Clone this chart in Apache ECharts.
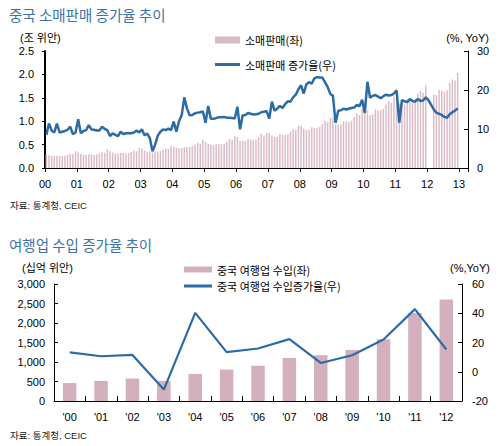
<!DOCTYPE html>
<html>
<head>
<meta charset="utf-8">
<script src="https://cdn.jsdelivr.net/npm/echarts@6/dist/echarts.min.js"></script>
<style>html,body{margin:0;padding:0;background:#fff}#c{width:502px;height:446px}</style>
</head>
<body>
<div id="c"></div>
<script>
// ---------- Chart 1: China retail sales (monthly, 2000-01 .. 2012-12) ----------
const yearLabels = ['00','01','02','03','04','05','06','07','08','09','10','11','12','13'];
const retailLeftTicks = ['0.0','0.5','1.0','1.5','2.0','2.5'];
const retailRightTicks = ['0','10','20','30'];
// 조 위안, one row per year (Jan..Dec)
const retailSales = [
  0.30,0.27,0.26,0.26,0.26,0.26,0.26,0.26,0.28,0.30,0.30,0.36,
  0.33,0.30,0.28,0.28,0.29,0.29,0.28,0.29,0.31,0.33,0.33,0.40,
  0.36,0.33,0.31,0.31,0.32,0.32,0.31,0.32,0.34,0.37,0.36,0.43,
  0.41,0.37,0.35,0.35,0.33,0.35,0.35,0.36,0.39,0.42,0.41,0.47,
  0.46,0.43,0.42,0.42,0.45,0.45,0.45,0.46,0.49,0.54,0.52,0.60,
  0.55,0.52,0.50,0.49,0.52,0.51,0.51,0.52,0.56,0.62,0.60,0.68,
  0.66,0.58,0.58,0.58,0.62,0.61,0.60,0.61,0.66,0.73,0.69,0.75,
  0.75,0.70,0.67,0.67,0.72,0.71,0.71,0.72,0.78,0.83,0.81,0.90,
  0.91,0.84,0.81,0.81,0.87,0.86,0.86,0.88,0.94,1.01,0.98,1.07,
  1.08,0.93,0.93,0.93,1.00,0.99,0.99,1.01,1.09,1.17,1.13,1.26,
  1.27,1.23,1.13,1.15,1.25,1.23,1.23,1.26,1.35,1.43,1.39,1.53,
  1.52,1.38,1.36,1.36,1.47,1.46,1.44,1.47,1.59,1.65,1.61,1.77,
  null,null,1.57,1.56,1.67,1.66,1.63,1.66,1.82,1.89,1.87,2.03
];
// %, YoY
const retailGrowth = [
  8.5,11.4,9.6,9.1,11.4,9.1,9.3,9.5,9.8,10.6,8.7,9.1,
  12.5,8.9,9.5,9.7,11.0,9.9,9.8,9.6,9.6,10.6,10.0,9.7,
  8.2,8.9,8.5,8.2,9.3,8.7,8.9,8.9,8.9,9.1,9.6,9.1,
  9.9,8.4,8.8,7.7,4.3,6.0,8.3,9.3,9.9,9.7,10.1,9.7,
  11.9,9.3,12.0,13.5,18.1,15.3,13.5,13.6,14.0,14.2,14.3,14.5,
  11.6,15.9,12.6,12.6,12.8,13.0,13.0,13.1,12.9,12.9,12.8,12.7,
  15.7,9.9,13.5,13.6,14.1,13.9,13.7,13.8,13.9,14.3,14.4,14.6,
  12.7,17.0,14.7,15.2,15.9,15.4,16.4,17.1,17.0,18.1,18.8,20.2,
  21.2,19.1,21.5,22.0,21.6,23.0,23.3,23.2,23.2,22.0,20.8,19.0,
  18.5,11.6,14.7,14.8,15.2,15.0,15.2,15.4,15.5,16.2,15.8,17.5,
  14.1,22.1,18.0,18.5,18.7,18.3,17.9,18.4,18.8,18.6,18.7,19.1,
  19.9,11.6,17.4,17.1,16.9,17.7,17.2,17.0,17.7,17.2,17.3,18.1,
  17.4,16.2,15.0,14.2,13.9,13.6,13.1,12.9,13.8,14.3,14.7,15.3
];

// ---------- Chart 2: China tourism revenue (annual) ----------
const tourYears = ["'00","'01","'02","'03","'04","'05","'06","'07","'08","'09","'10","'11","'12"];
const tourLeftTicks = ['0','500','1,000','1,500','2,000','2,500','3,000'];
const tourRightTicks = ['-20','0','20','40','60'];
const tourRevenue = [460, 515, 575, 515, 695, 805, 905, 1105, 1175, 1310, 1585, 2255, 2600]; // 십억 위안
const tourGrowth = [13.2, 10.6, 11.5, -12.2, 40.3, 13.4, 15.9, 22.3, 6.0, 11.3, 22.1, 42.8, 15.2]; // %

// month-slot centers on the value x-axis
const salesPts = retailSales.map((v, i) => [i + 0.5, v]).filter(p => p[1] !== null);
const growthPts = retailGrowth.map((v, i) => [i + 0.5, v]);

const FONT = "'Liberation Sans', 'Noto Sans CJK KR', sans-serif";
const KFONT = "'Noto Sans CJK KR', 'Liberation Sans', sans-serif";
const BLUE = '#2d6ba5';
const TITLE_BLUE = '#3b72a9';
const PINK_TOP = '#dbbcc6';
const PINK_BOT = '#d4b0be';

const chart = echarts.init(document.getElementById('c'), null, {renderer: 'svg'});

const txt = (text, x, y, size, align, color) => ({
  type: 'text', silent: true,
  style: {text, x, y, fill: color || '#000', font: size + 'px ' + FONT, align: align || 'left', verticalAlign: 'middle'}
});

const legendBase = {padding: 0, orient: 'horizontal', selectedMode: false,
  textStyle: {fontSize: 11, color: '#000', fontFamily: KFONT}};

chart.setOption({
  animation: false,
  backgroundColor: '#fff',
  textStyle: {fontFamily: FONT},
  title: [
    {text: '중국 소매판매 증가율 추이', left: 9, top: 7, padding: 0,
     textStyle: {fontSize: 14.5, fontWeight: 'normal', color: TITLE_BLUE, fontFamily: KFONT}},
    {text: '여행업 수입 증가율 추이', left: 9, top: 237, padding: 0,
     textStyle: {fontSize: 14.5, fontWeight: 'normal', color: TITLE_BLUE, fontFamily: KFONT}}
  ],
  graphic: [
    txt('(조 위안)', 20, 38, 11),
    txt('(%, YoY)', 489, 38, 11, 'right'),
    txt('자료: 통계청, CEIC', 10, 205, 9.5, 'left', '#222'),
    txt('(십억 위안)', 22, 268, 11),
    txt('(%,YoY)', 490, 268, 11, 'right'),
    txt('자료: 통계청, CEIC', 10, 435, 9.5, 'left', '#222')
  ],
  legend: [
    Object.assign({}, legendBase, {data: ['소매판매(좌)'], left: 215, top: 34.5, itemWidth: 25, itemHeight: 7, icon: 'rect'}),
    Object.assign({}, legendBase, {data: ['소매판매 증가율(우)'], left: 215, top: 59, itemWidth: 25, itemHeight: 3, icon: 'rect'}),
    Object.assign({}, legendBase, {data: ['중국 여행업 수입(좌)'], left: 184, top: 264, itemWidth: 28, itemHeight: 6, icon: 'rect'}),
    Object.assign({}, legendBase, {data: ['중국 여행업 수입증가율(우)'], left: 184, top: 280.5, itemWidth: 28, itemHeight: 3, icon: 'rect'})
  ],
  grid: [
    {left: 45, top: 51, width: 423, height: 117},
    {left: 54, top: 284, width: 408, height: 117}
  ],
  xAxis: [
    {gridIndex: 0, type: 'value', min: 0, max: 159.4, interval: 12,
     axisLine: {show: true, lineStyle: {color: '#000', width: 1}},
     axisTick: {show: true, length: 4, lineStyle: {color: '#000'}},
     axisLabel: {fontSize: 11, color: '#000', margin: 10,
       formatter: v => (v % 12 === 0 ? yearLabels[v / 12] : '')},
     splitLine: {show: false}},
    {gridIndex: 1, type: 'category', data: tourYears, boundaryGap: true,
     axisLine: {show: true, lineStyle: {color: '#000', width: 1}},
     axisTick: {show: true, inside: true, length: 5, alignWithLabel: false, lineStyle: {color: '#000'}},
     axisLabel: {fontSize: 11, color: '#000', margin: 10, interval: 0},
     splitLine: {show: false}}
  ],
  yAxis: [
    {gridIndex: 0, type: 'value', position: 'left', min: 0, max: 2.5, interval: 0.5,
     axisLine: {show: true, lineStyle: {color: '#000', width: 2}},
     axisTick: {show: true, length: 3, lineStyle: {color: '#000'}},
     axisLabel: {fontSize: 11, color: '#000', margin: 11,
       formatter: v => retailLeftTicks[Math.round(v / 0.5)]},
     splitLine: {show: false}},
    {gridIndex: 0, type: 'value', position: 'right', min: 0, max: 30, interval: 10,
     axisLine: {show: true, lineStyle: {color: '#000', width: 1}},
     axisTick: {show: true, inside: true, length: 4, lineStyle: {color: '#000'}},
     axisLabel: {fontSize: 11, color: '#000', margin: 9,
       formatter: v => retailRightTicks[Math.round(v / 10)]},
     splitLine: {show: false}},
    {gridIndex: 1, type: 'value', position: 'left', min: 0, max: 3000, interval: 500,
     axisLine: {show: true, lineStyle: {color: '#000', width: 1}},
     axisTick: {show: true, inside: true, length: 4, lineStyle: {color: '#000'}},
     axisLabel: {fontSize: 11, color: '#000', margin: 9,
       formatter: v => tourLeftTicks[Math.round(v / 500)]},
     splitLine: {show: false}},
    {gridIndex: 1, type: 'value', position: 'right', min: -20, max: 60, interval: 20,
     axisLine: {show: true, lineStyle: {color: '#000', width: 1}},
     axisTick: {show: true, inside: true, length: 4, lineStyle: {color: '#000'}},
     axisLabel: {fontSize: 11, color: '#000', margin: 10,
       formatter: v => tourRightTicks[Math.round((v + 20) / 20)]},
     splitLine: {show: false}}
  ],
  series: [
    {name: '소매판매(좌)', type: 'bar', xAxisIndex: 0, yAxisIndex: 0, data: salesPts,
     barWidth: 1.5, itemStyle: {color: PINK_TOP}},
    {name: '소매판매 증가율(우)', type: 'line', xAxisIndex: 0, yAxisIndex: 1, data: growthPts,
     symbol: 'none', lineStyle: {width: 2.5, color: BLUE}, itemStyle: {color: BLUE}, z: 5},
    {name: '중국 여행업 수입(좌)', type: 'bar', xAxisIndex: 1, yAxisIndex: 2, data: tourRevenue,
     barWidth: 13.5, itemStyle: {color: PINK_BOT}},
    {name: '중국 여행업 수입증가율(우)', type: 'line', xAxisIndex: 1, yAxisIndex: 3, data: tourGrowth,
     symbol: 'none', lineStyle: {width: 2.2, color: BLUE}, itemStyle: {color: BLUE}, z: 5}
  ]
});
</script>
</body>
</html>
